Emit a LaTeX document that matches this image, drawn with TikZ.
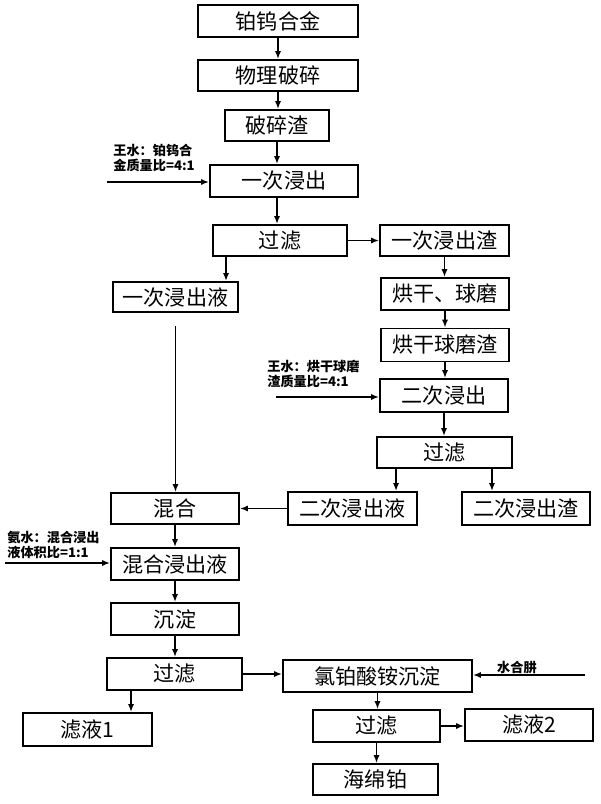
\documentclass[tikz,border=0pt]{standalone}
\usepackage{fontspec}
\newfontfamily\cjk{Noto Sans CJK SC}
\usetikzlibrary{calc,arrows.meta}

\tikzset{
	box/.style args={#1/#2}{draw, line width=1.1pt, inner sep=0pt,
		minimum width=#1*0.02cm, minimum height=#2*0.02cm,
		font=\cjk\fontsize{12}{14}\selectfont},
	lab/.style={inner sep=0pt, align=left,
		font=\cjk\bfseries\fontsize{7.5}{8.3}\selectfont},
	arr/.style={-{Latex[length=4.5pt,width=3.5pt]}, line width=1pt},
}

\begin{document}
\begin{tikzpicture}[x=0.02cm, y=-0.02cm]
			%%%%% START %%%%%
			
			\useasboundingbox (0,0) rectangle (600,804);
			
			\node[box={160/32}] (hj)   at (278,21)    {铂钨合金};
			\node[box={160/31}] (wl)   at (278,75.5)  {物理破碎};
			\node[box={104/31}] (psz)  at (277,125.5) {破碎渣};
			\node[box={148/32}] (yc)   at (284,181)   {一次浸出};
			\node[box={134/31}] (gl1)  at (280,240.5) {过滤};
			\node[box={129/31}] (ycz)  at (444.5,240.5) {一次浸出渣};
			\node[box={125/30}] (ycy)  at (175.5,297) {一次浸出液};
			\node[box={128/32}] (hg)   at (445,294)   {烘干、球磨};
			\node[box={128/33}] (hgz)  at (445,345)   {烘干球磨渣};
			\node[box={128/33}] (ec)   at (444,395.5) {二次浸出};
			\node[box={135/31}] (gl2)  at (444.5,452.5) {过滤};
			\node[box={129/33}] (ecy)  at (352.5,508.5) {二次浸出液};
			\node[box={128/33}] (ecz)  at (526,508.5) {二次浸出渣};
			
			\node[box={128/31}] (hh)   at (175,508.5) {混合};
			\node[box={128/32}] (hhy)  at (175,564)   {混合浸出液};
			\node[box={128/32}] (cd)   at (175,619)   {沉淀};
			\node[box={135/32}] (gl3)  at (174.5,674) {过滤};
			\node[box={129/33}] (ly1)  at (87.5,729.5) {滤液1};
			\node[box={189/32}] (lbs)  at (377.5,676) {氯铂酸铵沉淀};
			\node[box={127/32}] (gl4)  at (376.5,726) {过滤};
			\node[box={128/32}] (ly2)  at (529,725)   {滤液2};
			\node[box={125/31}] (hm)   at (375.5,779.5) {海绵铂};
			
			% reagents
			\node[lab, anchor=north west] (wsa) at (113,144) {王水：铂钨合\\金质量比=4:1};
			\node[lab, anchor=north west] (wsb) at (267,360) {王水：烘干球磨\\渣质量比=4:1};
			\node[lab, anchor=north west] (as)  at (7,531)   {氨水：混合浸出\\液体积比=1:1};
			\node[lab] (sh) at (517,667) {水合肼};
			
			\coordinate (ina) at (107,182);
			\coordinate (inb) at (276,397);
			\coordinate (inc) at (5,563);
			\coordinate (ind) at (585,675);
			
			\draw[arr] (hj.south) -- (hj.south |- wl.north);
			\draw[arr] (wl.south) -- (wl.south |- psz.north);
			\draw[arr] (psz.south) -- (psz.south |- yc.north);
			\draw[arr] (psz.south |- yc.south) -- (psz.south |- gl1.north);
			\draw[arr] (ina) -- (ina -| yc.west);
			
			\draw[arr] (gl1.east) -- (ycz.west);
			\draw[arr] ($(gl1.south west)+(14,0)$) coordinate (ta) -- (ta |- ycy.north);
			\draw[arr] (ycz.south) -- (ycz.south |- hg.north);
			\draw[arr] (hg.south) -- (hg.south |- hgz.north);
			\draw[arr] (hgz.south) -- (hgz.south |- ec.north);
			\draw[arr] (inb) -- (inb -| ec.west);
			\draw[arr] (ec.south) -- (ec.south |- gl2.north);
			\draw[arr] ($(gl2.south west)+(20,0)$) coordinate (tb) -- (tb |- ecy.north);
			\draw[arr] ($(gl2.south east)+(-21,0)$) coordinate (tc) -- (tc |- ecz.north);
			\draw[arr] (ecy.west) -- (hh.east);
			
			\draw[arr, shorten <=13*0.02cm] (ycy.south) -- (ycy.south |- hh.north);
			\draw[arr] (hh.south) -- (hhy.north);
			\draw[arr] (inc) -- (inc -| hhy.west);
			\draw[arr] (hhy.south) -- (cd.north);
			\draw[arr] (cd.south) -- (cd.south |- gl3.north);
			\draw[arr] ($(gl3.south west)+(25,0)$) coordinate (td) -- (td |- ly1.north);
			\draw[arr] (gl3.east) -- (gl3.east -| lbs.west);
			\draw[arr] (ind) -- (ind -| lbs.east);
			\draw[arr] (lbs.south) -- (lbs.south |- gl4.north);
			\draw[arr] (gl4.east) -- (gl4.east -| ly2.west);
			\draw[arr] (gl4.south) -- (gl4.south |- hm.north);
			
			%%%%% END %%%%%
\end{tikzpicture}
\end{document}
